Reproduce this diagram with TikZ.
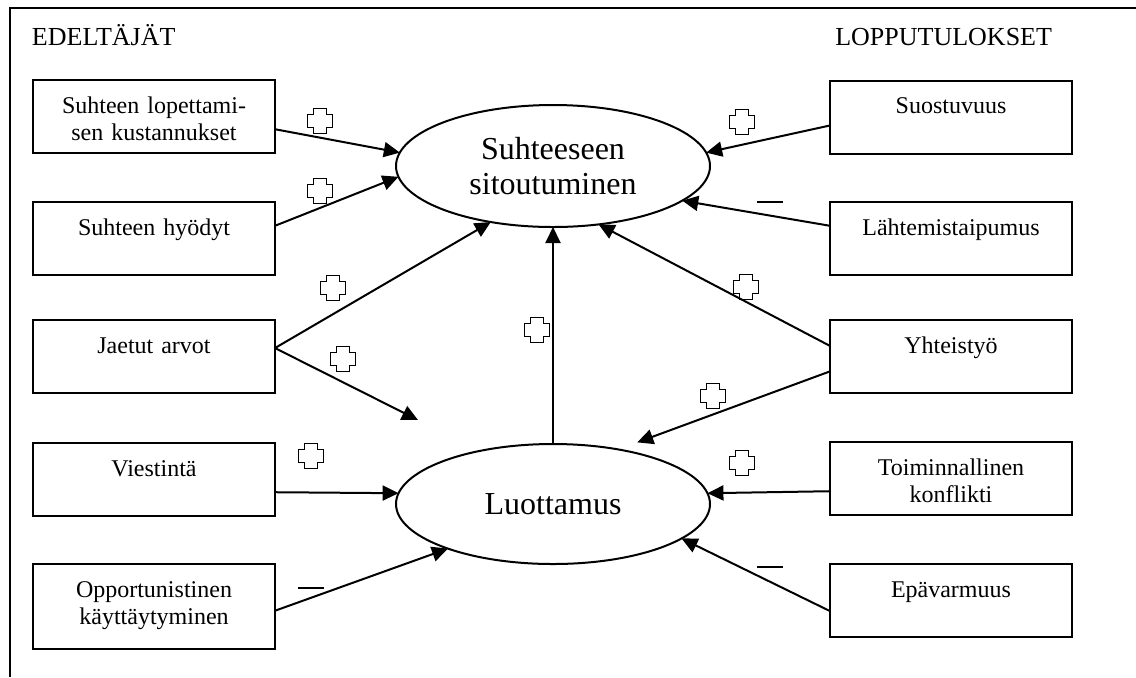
\documentclass[tikz,border=0pt]{standalone}
\usepackage{fontspec}
\setmainfont{Liberation Serif}
\usepackage{tikz}
\usetikzlibrary{arrows.meta}
\usetikzlibrary{shapes.geometric}

\tikzset{
    pics/plusMark/.style={code={
        \draw[line width=0.9pt] (-6.5,-12.5) -- (6.5,-12.5) -- (6.5,-6.5) -- (12.5,-6.5)
            -- (12.5,6.5) -- (6.5,6.5) -- (6.5,12.5) -- (-6.5,12.5) -- (-6.5,6.5)
            -- (-12.5,6.5) -- (-12.5,-6.5) -- (-6.5,-6.5) -- cycle;
    }},
    pics/minusMark/.style={code={
        \draw[line width=0.9pt] (-13,0) -- (13,0);
    }}
}

\begin{document}
\begin{tikzpicture}[x=0.5pt, y=-0.5pt, line width=1pt]
            \useasboundingbox (0,0) rectangle (1136,677);

            \tikzstyle{myBox}=[draw, rectangle, inner xsep=2pt, inner ysep=0pt, outer sep=0pt,
                text width=117pt, align=center, font=\fontsize{12}{13.5}\selectfont,
                text height=16.5pt, text depth=20pt];
            \tikzstyle{myEll}=[draw, ellipse, inner sep=0pt, outer sep=0pt, minimum width=157pt,
                align=center, font=\fontsize{16}{17.5}\selectfont];
            \tikzstyle{myHead}=[inner sep=0pt, font=\fontsize{13}{15}\selectfont];
            \tikzstyle{myArr}=[-{Triangle[length=8pt,width=7.5pt]}];

            % frame
            \draw[line width=1.3pt] (10,677) -- (10,8) -- (1136,8);

            \node[myHead, anchor=base west] (ede) at (31,45) {EDELTÄJÄT};
            \node[myHead, anchor=base east] (lop) at (1053,45) {LOPPUTULOKSET};

            \node[myEll, minimum height=61pt] (sit) at (553,166) {Suhteeseen\\sitoutuminen};
            \node[myEll, minimum height=60pt] (luo) at (553,504) {Luottamus};

            \node[myBox] (kus) at (154,116.5) {Suhteen lopettami-\\sen kustannukset};
            \node[myBox] (hyo) at (154,238.5) {Suhteen hyödyt};
            \node[myBox] (arv) at (154,356.5) {Jaetut arvot};
            \node[myBox] (vie) at (154,479.5) {Viestintä};
            \node[myBox, text depth=26pt] (opp) at (154,606.5) {Opportunistinen\\käyttäytyminen};

            \node[myBox] (suo) at (951,117) {Suostuvuus};
            \node[myBox] (lah) at (951,238.5) {Lähtemistaipumus};
            \node[myBox] (yht) at (951,356.5) {Yhteistyö};
            \node[myBox] (toi) at (951,478.5) {Toiminnallinen\\konflikti};
            \node[myBox] (epa) at (951,600.5) {Epävarmuus};

            \coordinate (arvEnd) at (418,420);

            \draw[myArr] (kus.-6.4) -- (sit.175);
            \draw[myArr] (hyo.6.4) -- (sit.184);
            \draw[myArr] (arv.4.5) -- (sit.222);
            \draw[myArr] (arv.4.5) -- (arvEnd);
            \draw[myArr] (luo.north) -- (sit.south);
            \draw[myArr] (vie.-6.1) -- (luo.176);
            \draw[myArr] (opp.-2.6) -- (luo.203);

            \draw[myArr] (suo.184) -- (sit.5);
            \draw[myArr] (lah.174) -- (sit.-15);
            \draw[myArr] (yht.175) -- (sit.-52);
            \draw[myArr] (yht.187.3) -- ([yshift=5.5pt]luo.31);
            \draw[myArr] (toi.186.1) -- (luo.4);
            \draw[myArr] (epa.185.4) -- (luo.-15);

            % signs
            \pic at (320,121) {plusMark};
            \pic at (320,191) {plusMark};
            \pic at (333,288) {plusMark};
            \pic at (343,359) {plusMark};
            \pic at (537,330) {plusMark};
            \pic at (311,456) {plusMark};
            \pic at (311,588) {minusMark};

            \pic at (742,122) {plusMark};
            \pic at (770,202) {minusMark};
            \pic at (746,287) {plusMark};
            \pic at (713,396) {plusMark};
            \pic at (742,463) {plusMark};
            \pic at (770,567) {minusMark};
         \end{tikzpicture}
\end{document}
